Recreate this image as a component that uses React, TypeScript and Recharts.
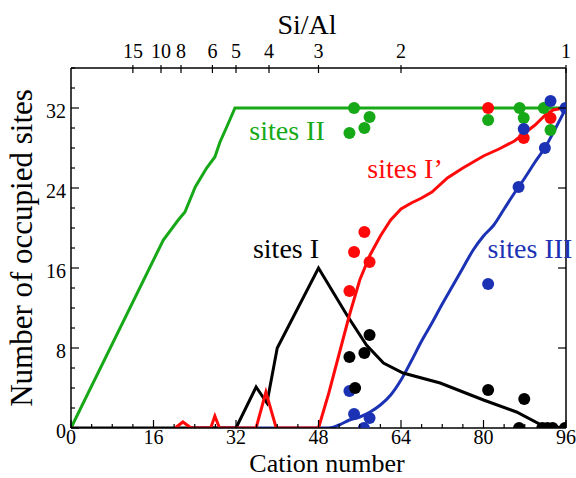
import React from 'react';
import { ComposedChart, Line, Scatter, XAxis, YAxis } from 'recharts';

const W = 576;
const H = 478;
const FONT = '"Liberation Serif", "Times New Roman", serif';

const GREEN = '#16a816';
const RED = '#ff0a0a';
const BLACK = '#000000';
const BLUE = '#1c32b4';

// axis ticks
const xTicks = [0, 4, 8, 12, 16, 20, 24, 28, 32, 36, 40, 44, 48, 52, 56, 60, 64, 68, 72, 76, 80, 84, 88, 92, 96];
const yTicks = [0, 2, 4, 6, 8, 10, 12, 14, 16, 18, 20, 22, 24, 26, 28, 30, 32, 34, 36];
const yRightTicks = [8, 16, 24, 32];
const siAlTicks = [15, 10, 8, 6, 5, 4, 3, 2, 1];
// 192 T atoms per cell: cation number = 192 / (1 + Si/Al)
const siAlPos = siAlTicks.map((r) => 192 / (1 + r));

// simulated curves [cation number, occupied sites]
const curveII = [[0, 0], [17.9, 18.8], [20.8, 20.8], [22.1, 21.6], [24.1, 24.1], [26.3, 26.0], [27.9, 27.1], [28.9, 28.6], [30.2, 30.1], [31.8, 32], [96, 32]];
const curveIII = [[23, 0], [50, 0], [52, 0.3], [54, 0.8], [56, 1.1], [58, 1.6], [60, 2.3], [62, 3.3], [64, 4.8], [66, 6.7], [68, 8.7], [70, 10.5], [72, 12.4], [74, 14.2], [76, 16.0], [78, 17.8], [80, 19.2], [82, 20.3], [84, 21.9], [86, 23.5], [88, 25.0], [90, 26.6], [92, 28.1], [94, 30.0], [96, 32]];
const curveI = [[0, 0], [32, 0], [35.9, 4.1], [38, 2.5], [40, 8], [48, 16], [53.5, 11.3], [57.3, 8.3], [60.6, 6.5], [64.4, 5.5], [71.6, 4.5], [80, 2.8], [86.4, 1.6], [91.6, 0.2], [96, 0]];
const curveIp = [[20.2, 0], [21.7, 0.6], [23.3, 0], [27.1, 0], [27.9, 1.2], [28.8, 0], [35.9, 0], [37.8, 3.6], [39.8, 0], [48, 0], [50, 3.5], [52, 7.4], [54, 11.3], [56, 14.8], [58, 17.3], [60, 19.2], [62, 20.8], [64, 21.9], [66, 22.5], [68, 23.0], [70, 23.6], [73, 25.0], [76, 26.0], [80, 27.2], [83, 27.9], [86, 28.7], [88, 29.5], [90, 30.3], [92, 31.3], [93.5, 31.8], [95.5, 32]];

// experimental points
const dotsII = [[54.0, 29.5], [54.9, 32.0], [56.9, 30.0], [57.9, 31.1], [80.9, 30.8], [87.0, 32.0], [87.8, 31.0], [91.7, 32.0], [93.0, 29.8]];
const dotsIp = [[54.0, 13.7], [54.9, 17.6], [56.9, 19.6], [57.9, 16.6], [80.9, 32.0], [87.8, 29.0], [93.0, 31.0]];
const dotsIII = [[54.0, 3.7], [54.9, 1.4], [56.8, 0], [57.9, 1.0], [80.9, 14.4], [86.8, 24.1], [87.8, 29.9], [91.9, 28.0], [93.0, 32.7], [95.9, 32.0]];
const dotsI = [[54.0, 7.1], [55.1, 4.0], [56.9, 7.5], [57.9, 9.3], [80.9, 3.8], [87.9, 2.9], [86.9, 0], [91.4, 0], [92.4, 0], [93.4, 0], [95.8, 0]];

const toPts = (arr: number[][]) => arr.map(([x, y]) => ({ x, y }));

function BottomTick({ x, y, payload }: any) {
  const v = payload.value;
  const major = v % 16 === 0;
  return (
    <g>
      <line x1={x} x2={x} y1={y} y2={y - (major ? 8 : 4)} stroke="#000" strokeWidth={1.2} />
      {major && (
        <text x={x} y={y + 16} textAnchor="middle" fontFamily={FONT} fontSize={20} fill="#000">
          {v}
        </text>
      )}
    </g>
  );
}

function LeftTick({ x, y, payload }: any) {
  const v = payload.value;
  const major = v % 8 === 0;
  return (
    <g>
      <line x1={x} x2={x + (major ? 8 : 4)} y1={y} y2={y} stroke="#000" strokeWidth={1.2} />
      {major && (
        <text x={x - 5} y={y + 10} textAnchor="end" fontFamily={FONT} fontSize={20} fill="#000">
          {v}
        </text>
      )}
    </g>
  );
}

function RightTick({ x, y }: any) {
  return <line x1={x} x2={x - 8} y1={y} y2={y} stroke="#000" strokeWidth={1.2} />;
}

function TopTick({ x, y, index }: any) {
  return (
    <g>
      <line x1={x} x2={x} y1={y - 3} y2={y + 5} stroke="#000" strokeWidth={1.2} />
      <text x={x} y={y - 10} textAnchor="middle" fontFamily={FONT} fontSize={20} fill="#000">
        {siAlTicks[index]}
      </text>
    </g>
  );
}

const dot = (color: string) => (p: any) => <circle cx={p.cx} cy={p.cy} r={6} fill={color} />;

const axisStyle = { stroke: '#000', strokeWidth: 1.5 };

export default function App() {
  return (
    <div style={{ position: 'absolute', left: 0, top: 0, width: W, height: H, background: '#fff' }}>
      <ComposedChart width={W} height={H} margin={{ top: 38, right: 9, bottom: 20, left: 31 }}>
        <XAxis xAxisId="bottom" type="number" dataKey="x" domain={[0, 96]} ticks={xTicks} interval={0}
          height={30} tickSize={0} tickMargin={0} tickLine={false} tick={<BottomTick />}
          axisLine={axisStyle} allowDataOverflow />
        <XAxis xAxisId="top" orientation="top" type="number" dataKey="x" domain={[0, 96]} ticks={siAlPos} interval={0}
          height={30} tickSize={0} tickMargin={0} tickLine={false} tick={<TopTick />}
          axisLine={axisStyle} allowDataOverflow />
        <YAxis yAxisId="left" type="number" domain={[0, 36]} ticks={yTicks} interval={0}
          width={40} tickSize={0} tickMargin={0} tickLine={false} tick={<LeftTick />}
          axisLine={axisStyle} allowDataOverflow />
        <YAxis yAxisId="right" orientation="right" type="number" domain={[0, 36]} ticks={yRightTicks} interval={0}
          width={1} tickSize={0} tickMargin={0} tickLine={false} tick={<RightTick />}
          axisLine={axisStyle} allowDataOverflow />

        <Line data={toPts(curveII)} dataKey="y" xAxisId="bottom" yAxisId="left" type="linear" stroke={GREEN} strokeWidth={3} dot={false} isAnimationActive={false} />
        <Line data={toPts(curveIII)} dataKey="y" xAxisId="bottom" yAxisId="left" type="monotone" stroke={BLUE} strokeWidth={3} dot={false} isAnimationActive={false} />
        <Line data={toPts(curveI)} dataKey="y" xAxisId="bottom" yAxisId="left" type="linear" stroke={BLACK} strokeWidth={3} dot={false} isAnimationActive={false} />
        <Line data={toPts(curveIp)} dataKey="y" xAxisId="bottom" yAxisId="left" type="linear" stroke={RED} strokeWidth={3} dot={false} isAnimationActive={false} />

        <Scatter data={toPts(dotsII)} dataKey="y" xAxisId="bottom" yAxisId="left" shape={dot(GREEN)} isAnimationActive={false} />
        <Scatter data={toPts(dotsIp)} dataKey="y" xAxisId="bottom" yAxisId="left" shape={dot(RED)} isAnimationActive={false} />
        <Scatter data={toPts(dotsIII)} dataKey="y" xAxisId="bottom" yAxisId="left" shape={dot(BLUE)} isAnimationActive={false} />
        <Scatter data={toPts(dotsI)} dataKey="y" xAxisId="bottom" yAxisId="left" shape={dot(BLACK)} isAnimationActive={false} />
      </ComposedChart>

      <svg width={W} height={H} style={{ position: 'absolute', left: 0, top: 0, pointerEvents: 'none' }}>
        <g fontFamily={FONT} fontSize={28} textAnchor="middle">
          <text x={307} y={34} fill="#000">Si/Al</text>
          <text x={327} y={472} fill="#000" fontSize={26}>Cation number</text>
          <text x={32} y={248} fill="#000" fontSize={31} transform="rotate(-90 32 248)">Number of occupied sites</text>
          <text x={287} y={140} fill={GREEN}>sites II</text>
          <text x={405} y={178} fill={RED}>sites I’</text>
          <text x={286} y={258} fill={BLACK}>sites I</text>
          <text x={530} y={258} fill={BLUE}>sites III</text>
        </g>
      </svg>
    </div>
  );
}
